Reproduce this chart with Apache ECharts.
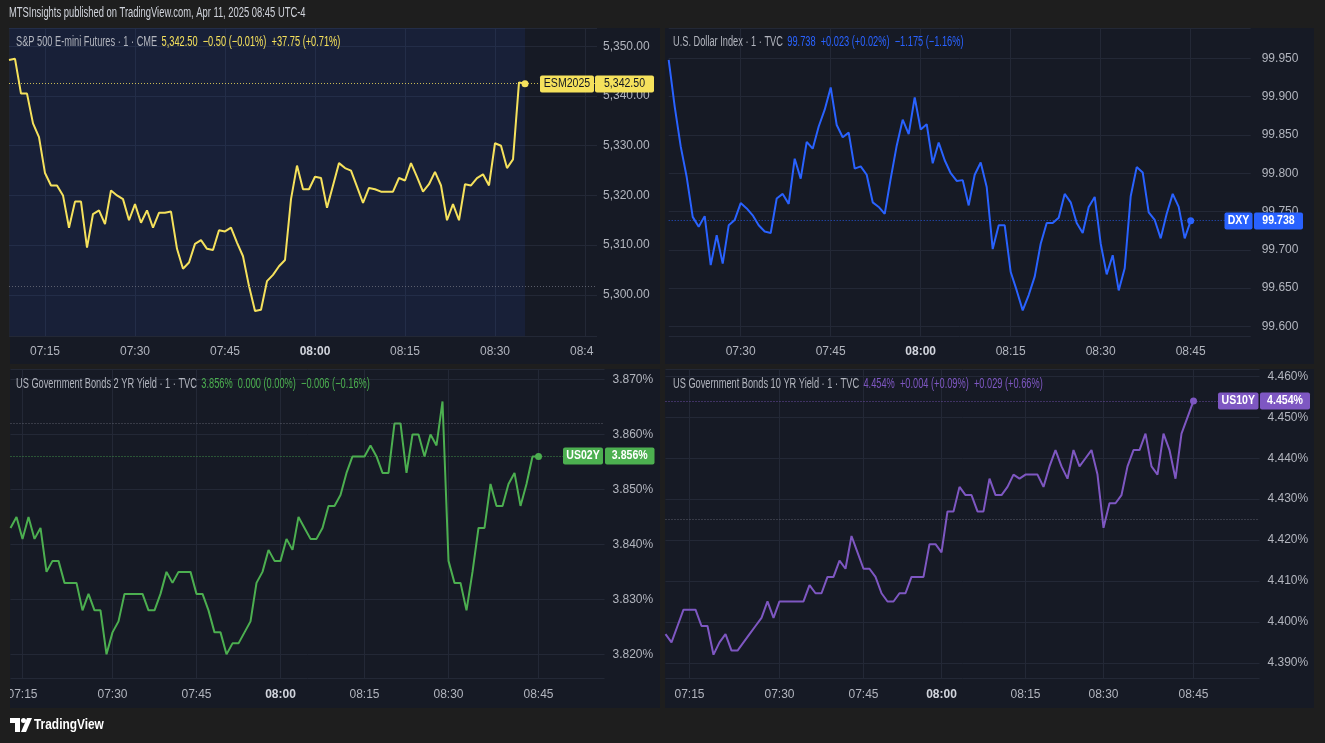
<!DOCTYPE html>
<html>
<head>
<meta charset="utf-8">
<title>ES / DXY / US02Y / US10Y - 1 min</title>
<script src="https://cdn.jsdelivr.net/npm/echarts@6/dist/echarts.min.js"></script>
<style>
  html, body { margin: 0; padding: 0; background: #1e1e1e; }
  #chart { width: 1325px; height: 743px; }
</style>
</head>
<body>
<div id="chart"></div>
<script>
// 1-minute closes
// ESM2025, 07:09 -> 08:35
const esValues = [
  5347.25, 5347.5, 5340.5, 5340.5, 5334.5, 5331.75, 5324.5, 5322, 5322, 5320,
  5313.5, 5318.75, 5318.75, 5309.5, 5316.25, 5317, 5314.25, 5321, 5320, 5319.25,
  5315, 5318.25, 5314.5, 5317, 5313.5, 5316.5, 5316.5, 5316.75, 5309.25, 5305.25,
  5306.5, 5310.25, 5311, 5309.25, 5309, 5313, 5312.75, 5313.5, 5310.5, 5307.75,
  5301.75, 5296.75, 5297, 5302.75, 5304, 5305.75, 5307, 5319.25, 5326, 5321.25,
  5321.25, 5323.75, 5323.5, 5317.5, 5322, 5326.5, 5325.5, 5325, 5321.75, 5318.5,
  5321.5, 5321.25, 5320.75, 5320.75, 5320.75, 5323.5, 5323, 5326.5, 5323.75, 5320.75,
  5322.25, 5324.75, 5322, 5315, 5318.25, 5315, 5322.25, 5322, 5323.5, 5324.25,
  5322, 5330.5, 5330, 5325.5, 5327.25, 5342.75, 5342.5
];
// DXY, 07:18 -> 08:45
const dxyValues = [
  99.948, 99.887, 99.835, 99.795, 99.743, 99.730, 99.744, 99.680, 99.719, 99.682,
  99.732, 99.739, 99.761, 99.754, 99.745, 99.732, 99.724, 99.722, 99.767, 99.773,
  99.760, 99.819, 99.793, 99.841, 99.832, 99.861, 99.883, 99.912, 99.863, 99.847,
  99.853, 99.806, 99.809, 99.798, 99.762, 99.756, 99.747, 99.793, 99.836, 99.870,
  99.851, 99.899, 99.857, 99.864, 99.813, 99.840, 99.817, 99.800, 99.790, 99.791,
  99.758, 99.798, 99.814, 99.782, 99.701, 99.732, 99.732, 99.671, 99.647, 99.621,
  99.641, 99.665, 99.708, 99.735, 99.735, 99.742, 99.773, 99.762, 99.735, 99.722,
  99.756, 99.769, 99.708, 99.668, 99.693, 99.647, 99.676, 99.770, 99.808, 99.801,
  99.749, 99.739, 99.715, 99.747, 99.773, 99.756, 99.715, 99.738
];
// US02Y yield, one value per bar (a few minutes have no bar)
const us02Values = [
  3.843, 3.845, 3.841, 3.845, 3.841, 3.843, 3.835, 3.837, 3.837, 3.833,
  3.833, 3.833, 3.828, 3.831, 3.828, 3.828, 3.820, 3.824, 3.826, 3.831,
  3.831, 3.831, 3.831, 3.828, 3.828, 3.831, 3.835, 3.833, 3.835, 3.835,
  3.835, 3.831, 3.831, 3.828, 3.824, 3.824, 3.820, 3.822, 3.822, 3.824,
  3.826, 3.833, 3.835, 3.839, 3.837, 3.837, 3.841, 3.839, 3.845, 3.843,
  3.841, 3.841, 3.843, 3.847, 3.847, 3.849, 3.853, 3.856, 3.856, 3.856,
  3.858, 3.856, 3.853, 3.853, 3.862, 3.862, 3.853, 3.860, 3.860, 3.856,
  3.860, 3.858, 3.866, 3.837, 3.833, 3.833, 3.828, 3.835, 3.843, 3.843,
  3.851, 3.847, 3.847, 3.851, 3.853, 3.847, 3.851, 3.856, 3.856
];
// US10Y yield
const us10Values = [
  4.397, 4.395, 4.399, 4.403, 4.403, 4.403, 4.399, 4.399, 4.392, 4.395,
  4.397, 4.393, 4.393, 4.395, 4.397, 4.399, 4.401, 4.405, 4.401, 4.405,
  4.405, 4.405, 4.405, 4.405, 4.409, 4.407, 4.407, 4.411, 4.411, 4.415,
  4.413, 4.421, 4.417, 4.413, 4.413, 4.411, 4.407, 4.405, 4.405, 4.407,
  4.407, 4.411, 4.411, 4.411, 4.419, 4.419, 4.417, 4.427, 4.427, 4.433,
  4.431, 4.431, 4.427, 4.427, 4.435, 4.431, 4.431, 4.433, 4.436, 4.435,
  4.436, 4.436, 4.436, 4.433, 4.438, 4.442, 4.438, 4.435, 4.442, 4.438,
  4.440, 4.442, 4.436, 4.423, 4.429, 4.429, 4.431, 4.438, 4.442, 4.442,
  4.446, 4.438, 4.436, 4.446, 4.442, 4.435, 4.446, 4.450, 4.454
];

// dotted reference levels (previous close)
const esPrevClose = 5301.75;
const us02PrevClose = 3.862;
const us10PrevClose = 4.425;

// time axis: which bar each tick sits on
const timeTicks = ['07:15', '07:30', '07:45', '08:00', '08:15', '08:30', '08:45'];
const esTickBars = [6, 21, 36, 51, 66, 81, 96];
const dxyTickBars = [12, 27, 42, 57, 72, 87];
const us02TickBars = [2, 17, 31, 45, 59, 73, 88];
const us10TickBars = [4, 19, 33, 46, 60, 73, 88];

const title = 'MTSInsights published on TradingView.com, Apr 11, 2025 08:45 UTC-4';
const esLegend = ['S&P 500 E-mini Futures · 1 · CME', '5,342.50  −0.50 (−0.01%)  +37.75 (+0.71%)'];
const dxyLegend = ['U.S. Dollar Index · 1 · TVC', '99.738  +0.023 (+0.02%)  −1.175 (−1.16%)'];
const us02Legend = ['US Government Bonds 2 YR Yield · 1 · TVC', '3.856%  0.000 (0.00%)  −0.006 (−0.16%)'];
const us10Legend = ['US Government Bonds 10 YR Yield · 1 · TVC', '4.454%  +0.004 (+0.09%)  +0.029 (+0.66%)'];

const FONT = "'Liberation Sans', Arial, sans-serif";
const NARROW = 0.66;   // the screenshot's UI font is condensed
const FRAME = '#1e1e1e';
const PANE = '#161a25';
const GRID = '#232836';
const TEXT = '#b2b5be';
const SESSION = 'rgba(41, 98, 255, 0.09)';

const pct = v => v.toFixed(3) + '%';

const panes = [
  {
    symbol: 'ESM2025', values: esValues, slots: 99, ticks: esTickBars, tickText: timeTicks,
    color: '#f5e15c', tagInk: '#131722', tagWeight: 'normal', legend: esLegend, legendAt: [16, 42], prev: esPrevClose,
    box: [10, 28, 650, 336], grid: { left: 9, top: 28, width: 588, height: 308 }, xMargin: 10,
    y: { min: 5291.7, max: 5353.7, split: 6, margin: 6 },
    fmt: v => v.toLocaleString('en-US', { minimumFractionDigits: 2, maximumFractionDigits: 2 }),
    tag: [540, 54, 595, 59], session: true
  },
  {
    symbol: 'DXY', values: dxyValues, slots: 98, ticks: dxyTickBars, tickText: timeTicks.slice(1),
    color: '#2962ff', tagInk: '#ffffff', tagWeight: 'bold', legend: dxyLegend, legendAt: [673, 42], prev: null,
    box: [665, 28, 649, 336], grid: { left: 668.7, top: 28, width: 582, height: 308 }, xMargin: 10,
    y: { min: 99.5875, max: 99.9896, split: 8, margin: 11 },
    fmt: v => v.toFixed(3),
    tag: [1224.5, 28, 1254, 49]
  },
  {
    symbol: 'US02Y', values: us02Values, slots: 100, ticks: us02TickBars, tickText: timeTicks,
    color: '#4caf50', tagInk: '#ffffff', tagWeight: 'bold', legend: us02Legend, legendAt: [16, 384], prev: us02PrevClose,
    box: [10, 369, 650, 339], grid: { left: 10.5, top: 369, width: 594, height: 309 }, xMargin: 11,
    y: { min: 3.8157, max: 3.8719, split: 6, margin: 8 },
    fmt: pct,
    tag: [563, 40, 605, 49.5]
  },
  {
    symbol: 'US10Y', values: us10Values, slots: 100, ticks: us10TickBars, tickText: timeTicks,
    color: '#7e57c2', tagInk: '#ffffff', tagWeight: 'bold', legend: us10Legend, legendAt: [673, 384], prev: us10PrevClose,
    box: [665, 369, 649, 339], grid: { left: 665.5, top: 369, width: 594, height: 309 }, xMargin: 11,
    y: { min: 4.3863, max: 4.4618, split: 7, margin: 8 },
    fmt: pct,
    tag: [1218, 40.5, 1260, 50]
  }
];

const chart = echarts.init(document.getElementById('chart'));

const grid = [], xAxis = [], yAxis = [], series = [];
panes.forEach((p, k) => {
  const n = p.values.length;
  const last = p.values[n - 1];
  grid.push(p.grid);
  xAxis.push({
    type: 'category',
    gridIndex: k,
    boundaryGap: false,
    data: Array.from({ length: p.slots }, (_, i) => i),
    axisLine: { show: false },
    axisTick: { show: false },
    axisLabel: {
      interval: i => p.ticks.includes(i),
      margin: p.xMargin,
      color: TEXT,
      fontFamily: FONT,
      fontSize: 12,
      formatter: (v, i) => {
        const t = p.tickText[p.ticks.indexOf(i)];
        return t === '08:00' ? '{b|' + t + '}' : t;
      },
      rich: { b: { fontWeight: 'bold', color: '#d1d4dc', fontFamily: FONT, fontSize: 12 } }
    },
    splitLine: { show: true, interval: i => p.ticks.includes(i), lineStyle: { color: GRID, width: 1 } }
  });
  yAxis.push({
    type: 'value',
    gridIndex: k,
    position: 'right',
    min: p.y.min,
    max: p.y.max,
    splitNumber: p.y.split,
    axisLine: { show: false },
    axisTick: { show: false },
    axisLabel: {
      margin: p.y.margin,
      color: TEXT,
      fontFamily: FONT,
      fontSize: 12,
      showMinLabel: false,
      showMaxLabel: false,
      formatter: p.fmt
    },
    splitLine: { lineStyle: { color: GRID, width: 1 } }
  });

  const levels = [{ yAxis: last, lineStyle: { color: p.color, opacity: 0.8 } }];
  if (p.prev != null) levels.push({ yAxis: p.prev, lineStyle: { color: '#787b86', opacity: 0.7 } });

  const s = {
    type: 'line',
    name: p.symbol,
    xAxisIndex: k,
    yAxisIndex: k,
    data: p.values,
    showSymbol: false,
    lineStyle: { color: p.color, width: 2 },
    itemStyle: { color: p.color },
    markLine: {
      silent: true,
      symbol: 'none',
      precision: 4,
      label: { show: false },
      lineStyle: { type: [1, 2], width: 1 },
      data: levels
    },
    markPoint: {
      symbol: 'circle',
      symbolSize: 7,
      label: { show: false },
      itemStyle: { color: p.color },
      data: [{ coord: [n - 1, last] }]
    }
  };
  if (p.session) {
    s.markArea = { silent: true, itemStyle: { color: SESSION }, data: [[{ xAxis: 0 }, { xAxis: n - 1 }]] };
  }
  series.push(s);
});

chart.setOption({
  backgroundColor: FRAME,
  animation: false,
  grid: grid,
  xAxis: xAxis,
  yAxis: yAxis,
  series: series
});

// static decoration: panes, header, legends, logo
const graphics = [];
panes.forEach(p => {
  graphics.push({
    type: 'rect', z: -10,
    shape: { x: p.box[0], y: p.box[1], width: p.box[2], height: p.box[3] },
    style: { fill: PANE }
  });
  graphics.push({
    type: 'text', z: 100, x: p.legendAt[0], y: p.legendAt[1], scaleX: NARROW,
    style: {
      text: '{n|' + p.legend[0] + '}  {v|' + p.legend[1] + '}',
      verticalAlign: 'middle', textVerticalAlign: 'middle',
      rich: {
        n: { fill: TEXT, fontSize: 14, fontFamily: FONT },
        v: { fill: p.color, fontSize: 14, fontFamily: FONT }
      }
    }
  });
});

graphics.push({
  type: 'text', z: 100, x: 9, y: 13, scaleX: 0.67,
  style: { text: title, fill: '#d1d4dc', fontSize: 14, fontFamily: FONT, verticalAlign: 'middle', textVerticalAlign: 'middle' }
});

// cut the time labels at the pane edges like the original
graphics.push({ type: 'rect', z: 90, shape: { x: 594, y: 337, width: 66, height: 27 }, style: { fill: PANE } });
graphics.push({ type: 'rect', z: 90, shape: { x: 0, y: 679, width: 10, height: 30 }, style: { fill: FRAME } });

// TradingView logo
graphics.push({ type: 'polygon', z: 100, shape: { points: [[10, 718], [20, 718], [20, 732], [15, 732], [15, 723], [10, 723]] }, style: { fill: '#ffffff' } });
graphics.push({ type: 'circle', z: 100, shape: { cx: 23.5, cy: 720.5, r: 2.5 }, style: { fill: '#ffffff' } });
graphics.push({ type: 'polygon', z: 100, shape: { points: [[27, 718], [32, 718], [26, 732], [21, 732]] }, style: { fill: '#ffffff' } });
graphics.push({
  type: 'text', z: 100, x: 34, y: 725, scaleX: 0.85,
  style: { text: 'TradingView', fill: '#ffffff', fontSize: 14, fontWeight: 'bold', fontFamily: FONT, verticalAlign: 'middle', textVerticalAlign: 'middle' }
});

// last-price tags on the price scale
panes.forEach((p, k) => {
  const n = p.values.length;
  const last = p.values[n - 1];
  const y = Math.round(chart.convertToPixel({ gridIndex: k }, [n - 1, last])[1]);
  const [nx, nw, vx, vw] = p.tag;
  const h = 17;
  [[nx, nw, p.symbol], [vx, vw, p.fmt(last)]].forEach(([x, w, label]) => {
    graphics.push({ type: 'rect', z: 100, shape: { x: x, y: y - h / 2, width: w, height: h, r: 2 }, style: { fill: p.color } });
    graphics.push({
      type: 'text', z: 101, x: x + w / 2, y: y, scaleX: 0.88,
      style: {
        text: label, fill: p.tagInk, fontSize: 12, fontWeight: p.tagWeight, fontFamily: FONT,
        align: 'center', verticalAlign: 'middle', textAlign: 'center', textVerticalAlign: 'middle'
      }
    });
  });
});

chart.setOption({ graphic: graphics });

window.addEventListener('resize', () => chart.resize());
</script>
</body>
</html>
